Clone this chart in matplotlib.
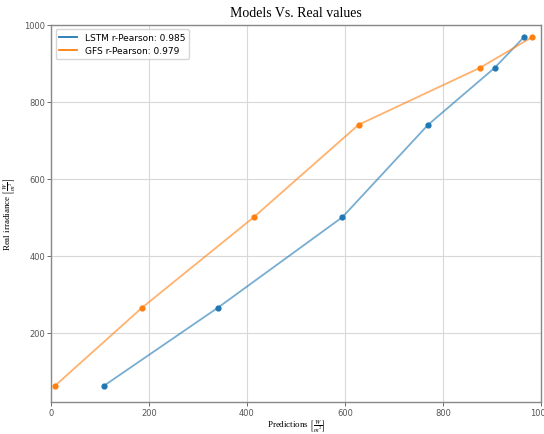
import numpy as np
import matplotlib.pyplot as plt

# real irradiance values (same for both models)
real = [62, 265, 500, 740, 888, 968]

# predictions
lstm_pred = [108, 341, 595, 770, 906, 966]
gfs_pred = [8, 186, 414, 628, 876, 983]

lstm_label = 'LSTM r-Pearson: 0.985'
gfs_label = 'GFS r-Pearson: 0.979'

bleu = '#1f77b4'
orange = '#ff7f0e'

plt.rcParams['mathtext.fontset'] = 'stix'

fig = plt.figure(figsize=(5.44, 4.35), dpi=100)
ax = fig.add_axes([0.094, 0.073, 0.9, 0.868])

ax.plot(lstm_pred, real, color=bleu, alpha=0.6, lw=1.3, label=lstm_label)
ax.plot(gfs_pred, real, color=orange, alpha=0.6, lw=1.3, label=gfs_label)
ax.scatter(lstm_pred, real, color=bleu, s=12, zorder=3)
ax.scatter(gfs_pred, real, color=orange, s=12, zorder=3)

ax.set_xlim(0, 1000)
ax.set_ylim(19, 1000)
ax.set_xticks([0, 200, 400, 600, 800, 1000])
ax.set_yticks([200, 400, 600, 800, 1000])
ax.tick_params(labelsize=6, length=3, colors='#555555', width=0.6, pad=1.5)
ax.grid(True, color='#d8d8d8', lw=0.8)
for s in ax.spines.values():
    s.set_color('#888888')
    s.set_linewidth(1.0)

ax.set_title('Models Vs. Real values', fontsize=10, family='Liberation Serif', pad=6)
ax.set_xlabel(r'Predictions $\left[\frac{W}{m^2}\right]$', fontsize=6.5,
              family='Liberation Serif', labelpad=0)
ax.set_ylabel(r'Real irradiance $\left[\frac{W}{m^2}\right]$', fontsize=6.5,
              family='Liberation Serif', labelpad=4)

leg = ax.legend(loc='upper left', fontsize=6.5, framealpha=0.8)
for l in leg.get_lines():
    l.set_alpha(1)

fig.savefig('out.png', dpi=100)
